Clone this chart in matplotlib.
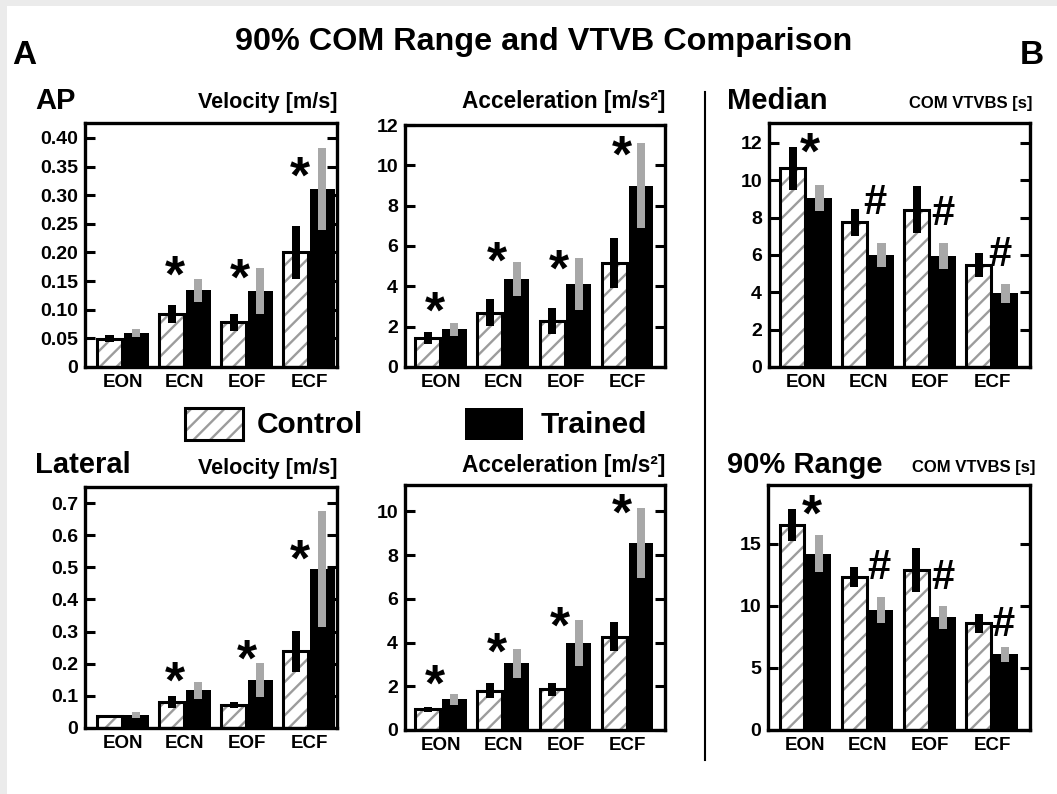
import numpy as np
import matplotlib.pyplot as plt
from matplotlib.patches import Rectangle
from matplotlib.lines import Line2D

plt.rcParams['font.family'] = ['Liberation Sans', 'DejaVu Sans']
plt.rcParams['font.weight'] = 'bold'
plt.rcParams['hatch.linewidth'] = 1.7

conditions = ['EON', 'ECN', 'EOF', 'ECF']

# AP velocity [m/s]
ap_vel_ctrl = [0.049, 0.093, 0.078, 0.200]
ap_vel_ctrl_err = [0.006, 0.016, 0.015, 0.047]
ap_vel_trn = [0.059, 0.134, 0.133, 0.311]
ap_vel_trn_err = [0.007, 0.020, 0.040, 0.071]
ap_vel_marks = ['', '*', '*', '*']
ap_vel_mark_dx = [0, -0.16, -0.11, -0.15]
ap_vel_mark_y = [0, 0.169, 0.163, 0.341]

# AP acceleration [m/s^2]
ap_acc_ctrl = [1.45, 2.7, 2.3, 5.15]
ap_acc_ctrl_err = [0.3, 0.65, 0.65, 1.25]
ap_acc_trn = [1.86, 4.35, 4.12, 9.0]
ap_acc_trn_err = [0.3, 0.85, 1.3, 2.1]
ap_acc_marks = ['*', '*', '*', '*']
ap_acc_mark_dx = [-0.1, -0.11, -0.1, -0.1]
ap_acc_mark_y = [3.0, 5.5, 5.1, 10.75]

# lateral velocity [m/s]
lat_vel_ctrl = [0.038, 0.081, 0.071, 0.239]
lat_vel_ctrl_err = [0.002, 0.019, 0.009, 0.064]
lat_vel_trn = [0.040, 0.117, 0.150, 0.495]
lat_vel_trn_err = [0.010, 0.027, 0.052, 0.180]
lat_vel_marks = ['', '*', '*', '*']
lat_vel_mark_dx = [0, -0.16, 0.0, -0.15]
lat_vel_mark_y = [0, 0.161, 0.228, 0.54]

# lateral acceleration [m/s^2]
lat_acc_ctrl = [0.95, 1.8, 1.86, 4.27]
lat_acc_ctrl_err = [0.12, 0.35, 0.3, 0.68]
lat_acc_trn = [1.4, 3.05, 3.97, 8.55]
lat_acc_trn_err = [0.25, 0.65, 1.05, 1.6]
lat_acc_marks = ['*', '*', '*', '*']
lat_acc_mark_dx = [-0.1, -0.11, -0.09, -0.1]
lat_acc_mark_y = [2.29, 3.79, 4.96, 10.15]

# median COM VTVBS [s]
med_ctrl = [10.64, 7.76, 8.42, 5.47]
med_ctrl_err = [1.15, 0.72, 1.25, 0.65]
med_trn = [9.05, 6.0, 5.95, 3.94]
med_trn_err = [0.72, 0.63, 0.7, 0.5]
med_marks = ['*', '#', '#', '#']
med_mark_dx = [0.06, 0.1, 0.21, 0.13]
med_mark_y = [11.75, 8.96, 8.42, 6.18]

# 90% range COM VTVBS [s]
rng_ctrl = [16.5, 12.3, 12.9, 8.6]
rng_ctrl_err = [1.3, 0.8, 1.8, 0.78]
rng_trn = [14.2, 9.65, 9.08, 6.1]
rng_trn_err = [1.5, 1.05, 0.9, 0.6]
rng_marks = ['*', '#', '#', '#']
rng_mark_dx = [0.1, 0.18, 0.21, 0.18]
rng_mark_y = [17.77, 13.37, 12.55, 8.75]

W, H = 1057, 794


def fx(px):
    return px / W


def fy(py):
    return 1 - py / H


def add_axes(x0, y0, x1, y1):
    return fig.add_axes([fx(x0), fy(y1), (x1 - x0) / W, (y1 - y0) / H])


def bar_panel(ax, ctrl, ctrl_err, trn, trn_err, marks, mark_dx, mark_y,
              ylim, yticks, yticklabels, xlim):
    x = np.arange(len(conditions))
    ctrl, ctrl_err = np.array(ctrl), np.array(ctrl_err)
    trn, trn_err = np.array(trn), np.array(trn_err)
    w, off, ew = 0.40, 0.215, 0.13
    ax.bar(x - off, ctrl, w, color='white', edgecolor='#9c9c9c', hatch='//',
           linewidth=0, zorder=2)
    ax.bar(x - off, ctrl, w, fill=False, edgecolor='black', linewidth=2.2, zorder=3)
    ax.bar(x + off, trn, w, color='black', linewidth=0, zorder=2)
    ax.bar(x - off, 2 * ctrl_err, ew, bottom=ctrl - ctrl_err, color='black',
           linewidth=0, zorder=4)
    ax.bar(x + off, 2 * trn_err, ew, bottom=trn - trn_err, color='#a8a8a8',
           linewidth=0, zorder=4)
    for i, m in enumerate(marks):
        if not m:
            continue
        fs = 37 if m == '*' else 30
        dy = -0.15 * fs if m == '*' else -0.09 * fs
        ax.annotate(m, (x[i] + mark_dx[i], mark_y[i]), xytext=(0, dy),
                    textcoords='offset points', ha='center', va='center',
                    fontsize=fs, fontweight='bold', zorder=5)
    ax.set_xlim(*xlim)
    ax.set_ylim(*ylim)
    ax.set_xticks(x)
    ax.set_xticklabels(conditions)
    ax.set_yticks(yticks)
    ax.set_yticklabels(yticklabels)
    ax.tick_params(axis='y', direction='in', length=7, width=2.2,
                   left=True, right=True, labelsize=14, pad=5)
    ax.tick_params(axis='x', length=0, labelsize=13.5, pad=5)
    for sp in ax.spines.values():
        sp.set_linewidth(2.4)


fig = plt.figure(figsize=(W / 100, H / 100), dpi=100, facecolor='#ebebeb')
fig.add_artist(Rectangle((fx(7), 0), fx(1057 - 7), fy(6), transform=fig.transFigure,
                         facecolor='white', edgecolor='none', zorder=0))

xlim_a = (-0.61, 3.45)
xlim_acc = (-0.58, 3.6)
xlim_b = (-0.6, 3.61)

ax1 = add_axes(85, 123, 337, 367)
vt = np.arange(0, 0.41, 0.05)
bar_panel(ax1, ap_vel_ctrl, ap_vel_ctrl_err, ap_vel_trn, ap_vel_trn_err,
          ap_vel_marks, ap_vel_mark_dx, ap_vel_mark_y, (0, 0.426), vt,
          ['0'] + ['%.2f' % v for v in vt[1:]], xlim_a)

ax2 = add_axes(405, 125, 665, 367)
at = np.arange(0, 13, 2)
bar_panel(ax2, ap_acc_ctrl, ap_acc_ctrl_err, ap_acc_trn, ap_acc_trn_err,
          ap_acc_marks, ap_acc_mark_dx, ap_acc_mark_y, (0, 12), at,
          [str(v) for v in at], xlim_acc)

ax3 = add_axes(769, 123, 1030, 367)
mt = np.arange(0, 13, 2)
bar_panel(ax3, med_ctrl, med_ctrl_err, med_trn, med_trn_err,
          med_marks, med_mark_dx, med_mark_y, (0, 13.07), mt,
          [str(v) for v in mt], xlim_b)

ax4 = add_axes(85, 487, 337, 728)
lt = np.arange(0, 0.71, 0.1)
bar_panel(ax4, lat_vel_ctrl, lat_vel_ctrl_err, lat_vel_trn, lat_vel_trn_err,
          lat_vel_marks, lat_vel_mark_dx, lat_vel_mark_y, (0, 0.75), lt,
          ['0'] + ['%.1f' % v for v in lt[1:]], xlim_a)

ax5 = add_axes(405, 485, 665, 730)
lat_t = np.arange(0, 11, 2)
bar_panel(ax5, lat_acc_ctrl, lat_acc_ctrl_err, lat_acc_trn, lat_acc_trn_err,
          lat_acc_marks, lat_acc_mark_dx, lat_acc_mark_y, (0, 11.2), lat_t,
          [str(v) for v in lat_t], xlim_acc)

ax6 = add_axes(768, 485, 1030, 730)
rt = [0, 5, 10, 15]
bar_panel(ax6, rng_ctrl, rng_ctrl_err, rng_trn, rng_trn_err,
          rng_marks, rng_mark_dx, rng_mark_y, (0, 19.75), rt,
          [str(v) for v in rt], xlim_b)

# headings
fig.text(fx(544), fy(50), '90% COM Range and VTVB Comparison', ha='center',
         va='baseline', fontsize=23.3, fontweight='bold')
fig.text(fx(12), fy(64), 'A', ha='left', va='baseline', fontsize=24, fontweight='bold')
fig.text(fx(1020), fy(64), 'B', ha='left', va='baseline', fontsize=24, fontweight='bold')

big, vel, acc, small = 21, 15.6, 16.3, 12
fig.text(fx(35), fy(109), 'AP', va='baseline', fontsize=big)
fig.text(fx(337), fy(108), 'Velocity [m/s]', ha='right', va='baseline', fontsize=vel)
fig.text(fx(665), fy(108), 'Acceleration [m/s²]', ha='right', va='baseline', fontsize=acc)
fig.text(fx(727), fy(109), 'Median', va='baseline', fontsize=big)
fig.text(fx(1032), fy(108), 'COM VTVBS [s]', ha='right', va='baseline', fontsize=small)

fig.text(fx(35), fy(473), 'Lateral', va='baseline', fontsize=big)
fig.text(fx(337), fy(474), 'Velocity [m/s]', ha='right', va='baseline', fontsize=vel)
fig.text(fx(665), fy(472), 'Acceleration [m/s²]', ha='right', va='baseline', fontsize=acc)
fig.text(fx(727), fy(473), '90% Range', va='baseline', fontsize=big)
fig.text(fx(1035), fy(472), 'COM VTVBS [s]', ha='right', va='baseline', fontsize=small)

# legend
fig.add_artist(Rectangle((fx(185), fy(440)), 58 / W, 32 / H, transform=fig.transFigure,
                         facecolor='white', edgecolor='#9c9c9c', hatch='//', linewidth=0))
fig.add_artist(Rectangle((fx(185), fy(440)), 58 / W, 32 / H, transform=fig.transFigure,
                         fill=False, edgecolor='black', linewidth=2.2))
fig.text(fx(257), fy(425), 'Control', va='center', fontsize=21.5)
fig.add_artist(Rectangle((fx(465), fy(440)), 58 / W, 32 / H, transform=fig.transFigure,
                         facecolor='black', edgecolor='black', linewidth=0))
fig.text(fx(541), fy(425), 'Trained', va='center', fontsize=21.5)

# separator between A and B
fig.add_artist(Line2D([fx(705), fx(705)], [fy(92), fy(760)], color='black', linewidth=1.5))

fig.savefig('out.png', dpi=100, facecolor=fig.get_facecolor())
